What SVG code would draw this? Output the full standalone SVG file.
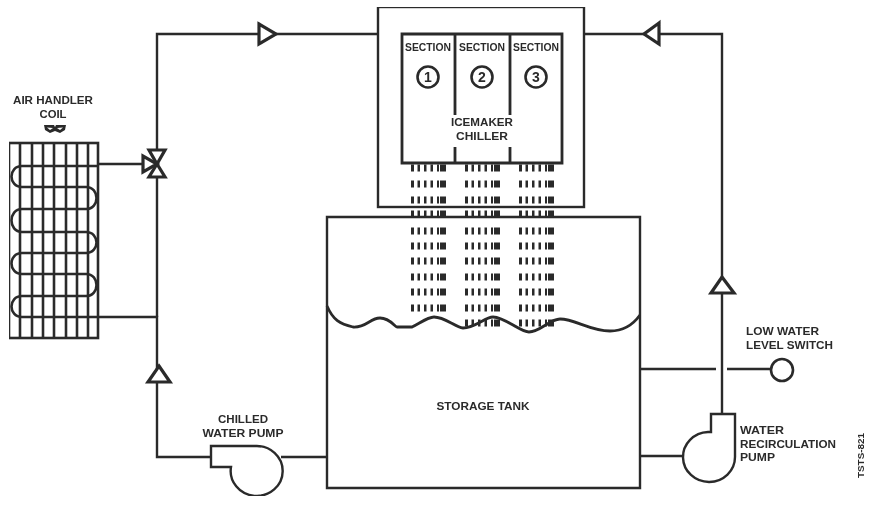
<svg xmlns="http://www.w3.org/2000/svg" width="873" height="508" viewBox="0 0 873 508">
<style>
.l{fill:none;stroke:#2b2b2b;stroke-width:2.4;stroke-linejoin:miter}
.g{fill:none;stroke:#2b2b2b;stroke-width:2.6}
.a{fill:#fff;stroke:#2b2b2b;stroke-width:3.2;stroke-linejoin:miter}
.t{font-family:"Liberation Sans",Arial,sans-serif;font-weight:bold;font-size:10.5px;fill:#2b2b2b}
.m{text-anchor:middle}
.n{font-size:14px}
.i{fill:none;stroke:#2b2b2b;stroke-width:7;stroke-dasharray:3 3.5 2.5 4 2.5 4 2.5 4 2 1 3 0}
</style>
<defs><filter id="b" x="0" y="0" width="100%" height="100%"><feGaussianBlur stdDeviation="0.45"/></filter></defs>
<rect width="873" height="508" fill="#fff"/>
<g filter="url(#b)">
<g id="connectors">
<path class="l" d="M157 317V34H378"/>
<path class="l" d="M584 34H722V414"/>
<path class="l" d="M98 164H143"/>
<path class="l" d="M98 317H157V457H211"/>
<path class="l" d="M281 457H326"/>
<path class="l" d="M641 456H683"/>
<path class="l" d="M641 369H716M727 369H771"/>
<path class="a" d="M259 24L276 34L259 44Z"/>
<path class="a" d="M659 23L644 34L659 44Z"/>
<path class="a" d="M159 366L170 382H148Z"/>
<path class="a" d="M722 277L734 293H711Z"/>
</g>
<g id="air-handler-coil">
<rect class="g" x="9" y="143" width="89" height="195"/>
<path class="g" d="M20 143V338M32 143V338M43 143V338M54 143V338M66 143V338M77 143V338M88 143V338"/>
<path class="g" d="M98 166H22C8 166 8 187 22 187H86C100 187 100 209 86 209H22C8 209 8 232 22 232H86C100 232 100 253 86 253H22C8 253 8 274 22 274H86C100 274 100 296 86 296H22C8 296 8 317 22 317H98"/>
<text class="t m" x="53" y="104" textLength="80" lengthAdjust="spacingAndGlyphs">AIR HANDLER</text>
<text class="t m" x="53" y="118" textLength="27" lengthAdjust="spacingAndGlyphs">COIL</text>
<path d="M44 125H54L55 127L56 125H66L65 130L60 133L55 131L50 133L45 130ZM47 127.5L50 130L53 128ZM57 128L60 130L63 127.5Z" fill="#2b2b2b" fill-rule="evenodd"/>
</g>
<g id="control-valve">
<path class="a" d="M143 156V172L157 164Z"/>
<path class="a" d="M149 150H165L157 164Z"/>
<path class="a" d="M149 177H165L157 164Z"/>
</g>
<g id="icemaker-chiller">
<rect class="l" x="378" y="7" width="206" height="200"/>
<path class="l" style="stroke-width:2.8" d="M455 115V34H402V163H562V34H455M510 34V115M455 147V163M510 147V163"/>
<text class="t m" x="428" y="51" textLength="46" lengthAdjust="spacingAndGlyphs">SECTION</text>
<text class="t m" x="482" y="51" textLength="46" lengthAdjust="spacingAndGlyphs">SECTION</text>
<text class="t m" x="536" y="51" textLength="46" lengthAdjust="spacingAndGlyphs">SECTION</text>
<circle class="g" cx="428" cy="77" r="10.5"/><circle class="g" cx="482" cy="77" r="10.5"/><circle class="g" cx="536" cy="77" r="10.5"/>
<text class="t m n" x="428" y="82">1</text><text class="t m n" x="482" y="82">2</text><text class="t m n" x="536" y="82">3</text>
<text class="t m" x="482" y="126" textLength="62" lengthAdjust="spacingAndGlyphs">ICEMAKER</text>
<text class="t m" x="482" y="140" textLength="52" lengthAdjust="spacingAndGlyphs">CHILLER</text>
</g>
<g id="storage-tank">
<path class="l" d="M327 488V217H640V488Z"/>
<path class="l" style="stroke-width:2.8" d="M327 306C333 320 340 324 353 327C366 328 370 318 380 318C390 318 395 327 397 327H412C420 323 428 317 434 317C445 317 455 327 463 328C475 328 485 317 493 317C505 317 520 332 529 332C540 332 550 319 560 319C575 319 590 331 610 331C625 331 635 322 640 315"/>
<path class="i" d="M411 168h35M465 168h35M519 168h35M411 184h35M465 184h35M519 184h35M411 200h35M465 200h35M519 200h35M411 214h35M465 214h35M519 214h35M411 231h35M465 231h35M519 231h35M411 246h35M465 246h35M519 246h35M411 261h35M465 261h35M519 261h35M411 277h35M465 277h35M519 277h35M411 292h35M465 292h35M519 292h35M411 308h35M465 308h35M519 308h35M465 323h35M519 323h35"/>
<text class="t m" x="483" y="410" textLength="93" lengthAdjust="spacingAndGlyphs">STORAGE TANK</text>
</g>
<g id="chilled-water-pump">
<path class="l" d="M255 446H211V467H231A26 25 0 1 0 255 446Z"/>
<text class="t m" x="243" y="423" textLength="50" lengthAdjust="spacingAndGlyphs">CHILLED</text>
<text class="t m" x="243" y="437" textLength="81" lengthAdjust="spacingAndGlyphs">WATER PUMP</text>
</g>
<g id="water-recirculation-pump">
<path class="l" d="M711 432V414H735V457A26 25 0 1 1 708 432Z"/>
<text class="t" x="740" y="434" textLength="44" lengthAdjust="spacingAndGlyphs">WATER</text>
<text class="t" x="740" y="448" textLength="96" lengthAdjust="spacingAndGlyphs">RECIRCULATION</text>
<text class="t" x="740" y="461" textLength="35" lengthAdjust="spacingAndGlyphs">PUMP</text>
</g>
<g id="low-water-level-switch">
<circle class="g" cx="782" cy="370" r="11"/>
<text class="t" x="746" y="335" textLength="73" lengthAdjust="spacingAndGlyphs">LOW WATER</text>
<text class="t" x="746" y="349" textLength="87" lengthAdjust="spacingAndGlyphs">LEVEL SWITCH</text>
</g>
<text class="t" transform="translate(864 478) rotate(-90)" style="font-size:9.5px" textLength="45" lengthAdjust="spacingAndGlyphs">TSTS-821</text>
</g>
</svg>
